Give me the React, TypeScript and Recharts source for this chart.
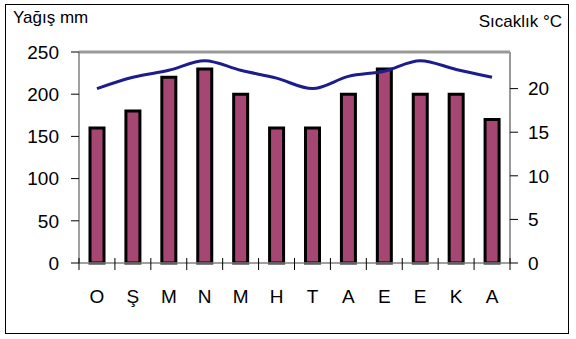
import { ComposedChart, Bar, Line, XAxis, YAxis, ReferenceLine } from 'recharts';

const months = ['O', 'Ş', 'M', 'N', 'M', 'H', 'T', 'A', 'E', 'E', 'K', 'A'];
const rain = [160, 180, 220, 230, 200, 160, 160, 200, 230, 200, 200, 170];
const temp = [20.0, 21.3, 22.1, 23.2, 22.1, 21.2, 20.0, 21.4, 22.0, 23.2, 22.2, 21.3];
const rainTicks = [0, 50, 100, 150, 200, 250];
const tempTicks = [0, 5, 10, 15, 20];

const data = months.map((m, i) => ({ m, rain: rain[i], temp: temp[i] }));

const W = 576;
const H = 339;
const LEFT = 79;
const RIGHT_W = 66;
const HALF_BAND = (W - LEFT - RIGHT_W) / months.length / 2;
const font = '"Liberation Sans", Arial, sans-serif';

function MonthTick(props: any) {
  const { x, y, payload, index } = props;
  return (
    <g>
      <line x1={x - HALF_BAND} x2={x - HALF_BAND} y1={y - 5} y2={y + 7} stroke="#000" strokeWidth={1} />
      {index === months.length - 1 ? (
        <line x1={x + HALF_BAND} x2={x + HALF_BAND} y1={y - 5} y2={y + 7} stroke="#000" strokeWidth={1} />
      ) : null}
      <text x={x} y={y + 40} textAnchor="middle" fontSize={19} fontFamily={font} fill="#000">
        {payload.value}
      </text>
    </g>
  );
}

export default function App() {
  return (
    <div style={{ position: 'absolute', left: 0, top: 0, width: W, height: H, background: '#fff', fontFamily: font }}>
      <div
        style={{
          position: 'absolute',
          left: 5,
          top: 4,
          width: 564,
          height: 330,
          boxSizing: 'border-box',
          border: '1.5px solid #000',
        }}
      />
      <div style={{ position: 'absolute', left: 13, top: 9, fontSize: 17, lineHeight: 1, color: '#000' }}>Yağış mm</div>
      <div style={{ position: 'absolute', right: 14, top: 13, fontSize: 17, lineHeight: 1, color: '#000' }}>Sıcaklık °C</div>
      <div style={{ position: 'absolute', left: 0, top: 0 }}>
        <ComposedChart width={W} height={H} data={data} margin={{ top: 52, right: 0, bottom: 26, left: 0 }}>
          <XAxis
            dataKey="m"
            height={50}
            tickSize={0}
            tickMargin={0}
            interval={0}
            tick={<MonthTick />}
            tickLine={false}
            axisLine={{ stroke: '#808080', strokeWidth: 1.5 }}
          />
          <YAxis
            yAxisId="rain"
            width={LEFT}
            domain={[0, 250]}
            ticks={rainTicks}
            interval={0}
            tickSize={8}
            tickMargin={12}
            tickLine={{ stroke: '#000' }}
            axisLine={{ stroke: '#808080', strokeWidth: 1.5 }}
            tick={{ fontSize: 19, fill: '#000', fontFamily: font }}
          />
          <YAxis
            yAxisId="temp"
            orientation="right"
            width={RIGHT_W}
            domain={[0, 24.2]}
            ticks={tempTicks}
            interval={0}
            tickSize={8}
            tickMargin={10}
            tickLine={{ stroke: '#000' }}
            axisLine={{ stroke: '#999', strokeWidth: 2 }}
            tick={{ fontSize: 19, fill: '#000', fontFamily: font }}
          />
          <ReferenceLine yAxisId="rain" y={250} stroke="#999" strokeWidth={3} />
          <Bar
            yAxisId="rain"
            dataKey="rain"
            barSize={14}
            fill="#A64673"
            stroke="#000"
            strokeWidth={3}
            isAnimationActive={false}
          />
          <Line
            yAxisId="temp"
            dataKey="temp"
            type="monotone"
            stroke="#1C1C8C"
            strokeWidth={3}
            dot={false}
            isAnimationActive={false}
          />
        </ComposedChart>
      </div>
    </div>
  );
}
